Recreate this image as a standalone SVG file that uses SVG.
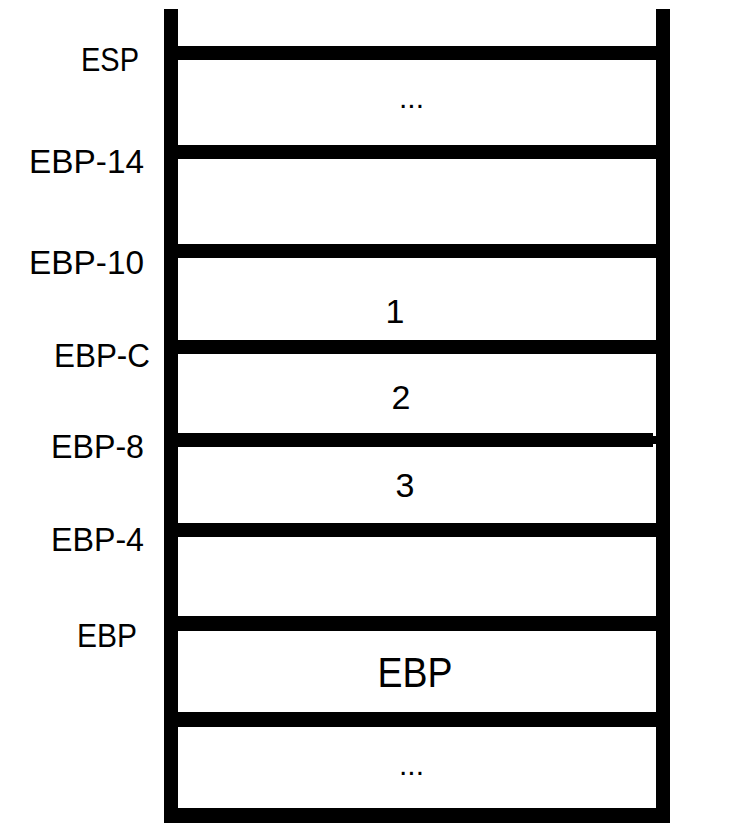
<svg xmlns="http://www.w3.org/2000/svg" width="743" height="840" viewBox="0 0 743 840">
<style>
.bar{fill:#000}
.lbl{font-family:"Liberation Sans",Arial,sans-serif;font-size:33px;fill:#000;text-anchor:end}
.val{font-family:"Liberation Sans",Arial,sans-serif;font-size:34px;fill:#000;text-anchor:middle}
.dots{font-family:"Liberation Sans",Arial,sans-serif;font-size:30px;fill:#000;text-anchor:middle}
</style>
<rect width="743" height="840" fill="#fff"/>
<g id="stack-frame">
<rect class="bar" x="164" y="9" width="14" height="814"/>
<rect class="bar" x="656" y="9" width="14" height="814"/>
<rect class="bar" x="164" y="46" width="506" height="14"/>
<rect class="bar" x="164" y="145" width="506" height="14"/>
<rect class="bar" x="164" y="244" width="506" height="14"/>
<rect class="bar" x="164" y="340" width="506" height="14"/>
<rect class="bar" x="164" y="433" width="489" height="14"/>
<rect class="bar" x="652" y="436" width="6" height="8"/>
<rect class="bar" x="164" y="523" width="506" height="14"/>
<rect class="bar" x="164" y="616" width="506" height="15"/>
<rect class="bar" x="164" y="712" width="506" height="15"/>
<rect class="bar" x="164" y="808" width="506" height="15"/>
</g>
<g id="labels">
<text class="lbl" x="139" y="71" textLength="58" lengthAdjust="spacingAndGlyphs">ESP</text>
<text class="lbl" x="144" y="173" textLength="115" lengthAdjust="spacingAndGlyphs">EBP-14</text>
<text class="lbl" x="144" y="274" textLength="115" lengthAdjust="spacingAndGlyphs">EBP-10</text>
<text class="lbl" x="150" y="367" textLength="96" lengthAdjust="spacingAndGlyphs">EBP-C</text>
<text class="lbl" x="144" y="458" textLength="93" lengthAdjust="spacingAndGlyphs">EBP-8</text>
<text class="lbl" x="144" y="551" textLength="93" lengthAdjust="spacingAndGlyphs">EBP-4</text>
<text class="lbl" x="137" y="647" textLength="60" lengthAdjust="spacingAndGlyphs">EBP</text>
</g>
<g id="slot-top"><text class="dots" x="411.5" y="108" textLength="25" lengthAdjust="spacingAndGlyphs">...</text></g>
<g id="slot-1"><text class="val" x="395" y="323">1</text></g>
<g id="slot-2"><text class="val" x="401" y="409">2</text></g>
<g id="slot-3"><text class="val" x="405" y="497">3</text></g>
<g id="slot-ebp"><text class="val" x="415" y="687" style="font-size:43px" textLength="75" lengthAdjust="spacingAndGlyphs">EBP</text></g>
<g id="slot-bottom"><text class="dots" x="411.5" y="775" textLength="25" lengthAdjust="spacingAndGlyphs">...</text></g>
</svg>
